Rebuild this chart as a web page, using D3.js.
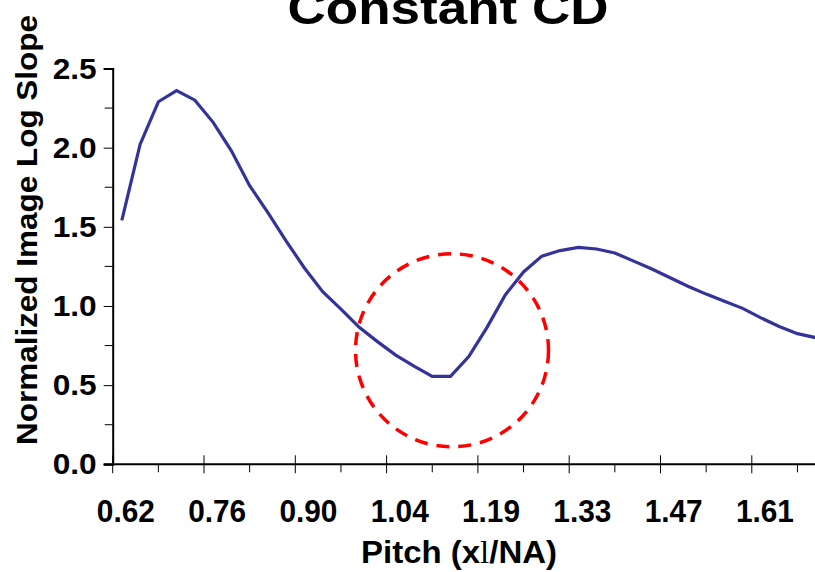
<!DOCTYPE html>
<html>
<head>
<meta charset="utf-8">
<script src="https://cdn.jsdelivr.net/npm/d3@7"></script>
<style>
  body { margin: 0; background: #fff; }
  svg { display: block; font-family: Arial, "Liberation Sans", sans-serif; }
</style>
</head>
<body>
<svg id="chart" width="815" height="572"></svg>
<script>
// Pitch categories (x lambda / NA)
const pitch = [
  "0.62", "0.65", "0.68", "0.70", "0.73", "0.76", "0.79", "0.82", "0.85", "0.87",
  "0.90", "0.93", "0.96", "0.99", "1.02", "1.04", "1.07", "1.10", "1.13", "1.16",
  "1.19", "1.21", "1.24", "1.27", "1.30", "1.33", "1.36", "1.38", "1.41", "1.44",
  "1.47", "1.50", "1.53", "1.55", "1.58", "1.61", "1.64", "1.67", "1.69"
];

// Normalized image log slope
const nils = [
  1.54, 2.02, 2.29, 2.36, 2.30, 2.16, 1.98, 1.76, 1.59, 1.41,
  1.24, 1.09, 0.98, 0.865, 0.775, 0.69, 0.62, 0.555, 0.555, 0.68,
  0.865, 1.07, 1.215, 1.315, 1.35, 1.37, 1.36, 1.335, 1.285, 1.235,
  1.18, 1.125, 1.075, 1.03, 0.985, 0.925, 0.87, 0.825, 0.80
];

const xTickLabels = ["0.62", "0.76", "0.90", "1.04", "1.19", "1.33", "1.47", "1.61"];
const yTicks = [0, 0.5, 1.0, 1.5, 2.0, 2.5];
const yMinorTicks = [0.25, 0.75, 1.25, 1.75, 2.25];

// highlighted dip (red dashed circle)
const highlight = { pitch: "1.13", value: 0.72 };

const svg = d3.select('#chart');

const plotLeft = 112.7, plotBottom = 464.3, plotTop = 68.5;
const step = 18.26;

const x = d3.scaleBand()
  .domain(pitch)
  .range([plotLeft, plotLeft + step * pitch.length])
  .padding(0);

const y = d3.scaleLinear()
  .domain([0, 2.5])
  .range([plotBottom, plotTop]);

// Title (cut off at the top like the source)
svg.append('text')
  .attr('x', 448)
  .attr('y', 24)
  .attr('text-anchor', 'middle')
  .attr('font-size', '47px')
  .attr('font-weight', 'bold')
  .attr('textLength', 321)
  .attr('lengthAdjust', 'spacingAndGlyphs')
  .text('Constant CD');

// Y axis
const yAxis = d3.axisLeft(y)
  .tickValues(yTicks)
  .tickSize(9)
  .tickPadding(7)
  .tickFormat(d3.format('.1f'));

const yg = svg.append('g')
  .attr('transform', `translate(${plotLeft},0)`)
  .call(yAxis);
yg.select('.domain').attr('stroke-width', 2);
yg.selectAll('.tick line').attr('stroke-width', 1);
yg.selectAll('.tick text')
  .attr('font-size', '30px')
  .attr('font-weight', 'bold')
  .attr('font-family', 'Arial, "Liberation Sans", sans-serif')
  .attr('fill', '#000')
  .attr('textLength', 44)
  .attr('lengthAdjust', 'spacingAndGlyphs');

yg.selectAll('.minor')
  .data(yMinorTicks)
  .enter()
  .append('line')
  .attr('class', 'minor')
  .attr('x1', -8)
  .attr('x2', 0)
  .attr('y1', d => y(d))
  .attr('y2', d => y(d))
  .attr('stroke', '#000');

// X axis (drawn by hand, Excel style: ticks on category boundaries)
const xg = svg.append('g');
xg.append('line')
  .attr('x1', plotLeft - 9)
  .attr('x2', x.range()[1])
  .attr('y1', plotBottom)
  .attr('y2', plotBottom)
  .attr('stroke', '#000')
  .attr('stroke-width', 2);

const majorIdx = xTickLabels.map(l => pitch.indexOf(l));

xg.selectAll('.major')
  .data(majorIdx)
  .enter()
  .append('line')
  .attr('class', 'major')
  .attr('x1', i => x(pitch[i]))
  .attr('x2', i => x(pitch[i]))
  .attr('y1', plotBottom - 9)
  .attr('y2', plotBottom + 9)
  .attr('stroke', '#000');

xg.selectAll('.minor')
  .data(majorIdx)
  .enter()
  .append('line')
  .attr('class', 'minor')
  .attr('x1', i => x(pitch[i]) + x.bandwidth() * 2.5)
  .attr('x2', i => x(pitch[i]) + x.bandwidth() * 2.5)
  .attr('y1', plotBottom)
  .attr('y2', plotBottom + 8)
  .attr('stroke', '#000');

xg.selectAll('.label')
  .data(xTickLabels)
  .enter()
  .append('text')
  .attr('class', 'label')
  .attr('x', d => x(d) + x.bandwidth() / 2 + 4)
  .attr('y', plotBottom + 58)
  .attr('text-anchor', 'middle')
  .attr('font-size', '32px')
  .attr('font-weight', 'bold')
  .attr('textLength', 58)
  .attr('lengthAdjust', 'spacingAndGlyphs')
  .text(d => d);

// Axis titles
const xTitle = svg.append('text')
  .attr('x', 459)
  .attr('y', 563)
  .attr('text-anchor', 'middle')
  .attr('font-size', '32px')
  .attr('font-weight', 'bold')
  .attr('textLength', 196)
  .attr('lengthAdjust', 'spacingAndGlyphs');
xTitle.append('tspan').text('Pitch (x');
xTitle.append('tspan')
  .attr('font-family', '"Liberation Serif", "Times New Roman", serif')
  .attr('font-weight', 'normal')
  .text('l');
xTitle.append('tspan').text('/NA)');

svg.append('text')
  .attr('transform', 'translate(37,230) rotate(-90)')
  .attr('text-anchor', 'middle')
  .attr('font-size', '30px')
  .attr('font-weight', 'bold')
  .attr('textLength', 430)
  .attr('lengthAdjust', 'spacingAndGlyphs')
  .text('Normalized Image Log Slope');

// Data line
const line = d3.line()
  .x((d, i) => x(pitch[i]) + x.bandwidth() / 2)
  .y(d => y(d));

svg.append('path')
  .datum(nils)
  .attr('fill', 'none')
  .attr('stroke', '#333399')
  .attr('stroke-width', 3.2)
  .attr('stroke-linejoin', 'miter')
  .attr('d', line);

// Red dashed circle round the dip
svg.append('circle')
  .attr('cx', x(highlight.pitch) + x.bandwidth() / 2 + 1.5)
  .attr('cy', y(highlight.value))
  .attr('r', 96.5)
  .attr('fill', 'none')
  .attr('stroke', '#ff0000')
  .attr('stroke-width', 3.5)
  .attr('stroke-dasharray', '13,9');
</script>
</body>
</html>
